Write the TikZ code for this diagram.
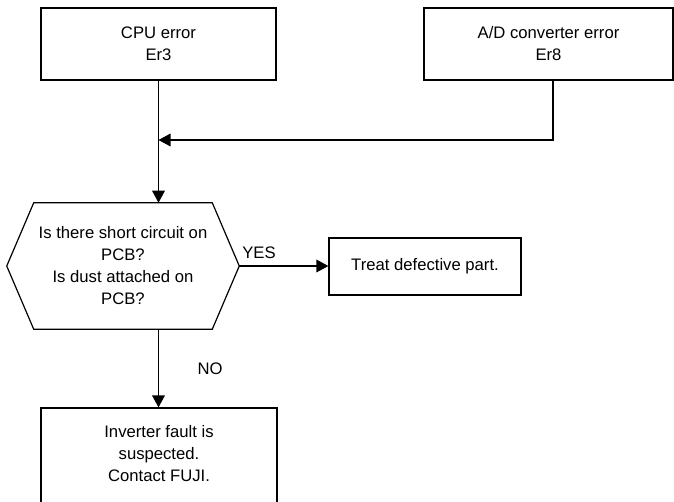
\documentclass[tikz,border=0pt]{standalone}
\usepackage{fontspec}
\setmainfont{Liberation Sans}
\usetikzlibrary{arrows.meta}
\tikzset{
  txt/.style={align=center,font=\fontsize{12.5}{16.5}\selectfont,inner sep=0pt},
  heavybox/.style={draw,line width=1.6pt,txt},
  thinbox/.style={draw,line width=0.9pt,txt},
  conn/.style={line width=0.9pt,-{Triangle[length=9pt,width=9.5pt]}},
  plain/.style={line width=0.9pt}
}
\begin{document}
\begin{tikzpicture}[x=0.75pt,y=-0.75pt]
\useasboundingbox (0,0) rectangle (674,501);
\node[heavybox,minimum width=176.25pt,minimum height=54pt] (cpu) at (158.5,44) {CPU error\\Er3};
\node[heavybox,minimum width=186.75pt,minimum height=54pt] (ad) at (548.5,44) {A/D converter error\\Er8};
\node[txt,minimum width=174pt,minimum height=94.5pt] (dec) at (123,266) {Is there short circuit on\\PCB?\\Is dust attached on\\PCB?};
\draw[plain] (dec.west) -- ([xshift=20.25pt]dec.north west) -- ([xshift=-20.25pt]dec.north east) -- (dec.east) -- ([xshift=-20.25pt]dec.south east) -- ([xshift=20.25pt]dec.south west) -- cycle;
\node[thinbox,minimum width=144pt,minimum height=42.75pt] (treat) at (425,266.5) {Treat defective part.};
\node[draw,line width=0.9pt,minimum width=177pt,minimum height=91.5pt] (inv) at (159,469) {};
\node[txt] (invt) at (159,454) {Inverter fault is\\suspected.\\Contact FUJI.};
\coordinate (adout) at (553,80);
\coordinate (join) at (158.5,140);
\draw[conn] (adout) |- (join);
\draw[conn] (cpu.south) -- (cpu.south |- dec.north);
\draw[conn] (dec.east) -- (treat.west |- dec.east);
\draw[conn] (cpu.south |- dec.south) -- (cpu.south |- inv.north);
\node[txt] (yes) at (259,253) {YES};
\node[txt] (no) at (210,369) {NO};
\end{tikzpicture}
\end{document}
